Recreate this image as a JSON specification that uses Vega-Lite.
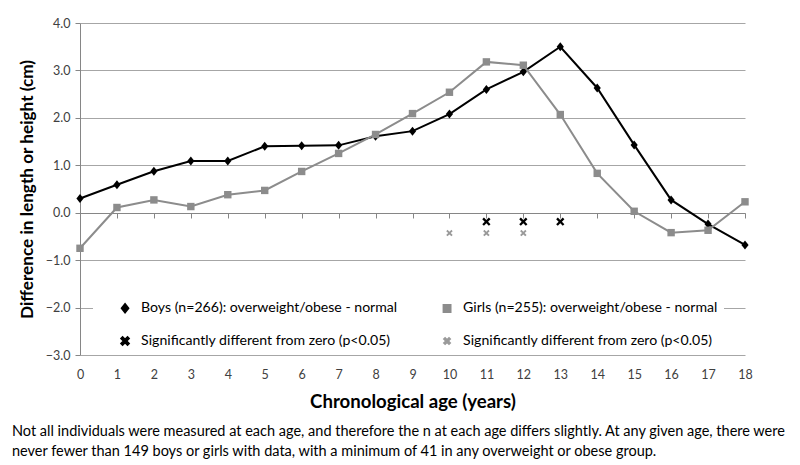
{
  "$schema": "https://vega.github.io/schema/vega-lite/v6.json",
  "width": 665,
  "height": 332,
  "autosize": {"type": "none"},
  "padding": {"left": 80, "top": 23, "right": 55, "bottom": 110},
  "background": "white",
  "config": {"font": "Lato", "view": {"stroke": null}},
  "title": {
    "text": ["Not all individuals were measured at each age, and therefore the n at each age differs slightly. At any given age, there were", "never fewer than 149  boys or girls with data, with a minimum of 41  in any overweight or obese group."],
    "orient": "bottom",
    "anchor": "start",
    "frame": "group",
    "dx": -68,
    "offset": 14,
    "fontSize": 14.5,
    "fontWeight": "normal",
    "color": "#000000",
    "lineHeight": 20,
    "font": "Lato"
  },
  "datasets": {
    "main": [
      {"age": 0, "series": "Boys", "diff": 0.30},
      {"age": 1, "series": "Boys", "diff": 0.59},
      {"age": 2, "series": "Boys", "diff": 0.875},
      {"age": 3, "series": "Boys", "diff": 1.09},
      {"age": 4, "series": "Boys", "diff": 1.09},
      {"age": 5, "series": "Boys", "diff": 1.40},
      {"age": 6, "series": "Boys", "diff": 1.41},
      {"age": 7, "series": "Boys", "diff": 1.42},
      {"age": 8, "series": "Boys", "diff": 1.61},
      {"age": 9, "series": "Boys", "diff": 1.72},
      {"age": 10, "series": "Boys", "diff": 2.08},
      {"age": 11, "series": "Boys", "diff": 2.60},
      {"age": 12, "series": "Boys", "diff": 2.97},
      {"age": 13, "series": "Boys", "diff": 3.50},
      {"age": 14, "series": "Boys", "diff": 2.63},
      {"age": 15, "series": "Boys", "diff": 1.43},
      {"age": 16, "series": "Boys", "diff": 0.27},
      {"age": 17, "series": "Boys", "diff": -0.24},
      {"age": 18, "series": "Boys", "diff": -0.68},
      {"age": 0, "series": "Girls", "diff": -0.75},
      {"age": 1, "series": "Girls", "diff": 0.11},
      {"age": 2, "series": "Girls", "diff": 0.27},
      {"age": 3, "series": "Girls", "diff": 0.13},
      {"age": 4, "series": "Girls", "diff": 0.38},
      {"age": 5, "series": "Girls", "diff": 0.47},
      {"age": 6, "series": "Girls", "diff": 0.87},
      {"age": 7, "series": "Girls", "diff": 1.25},
      {"age": 8, "series": "Girls", "diff": 1.65},
      {"age": 9, "series": "Girls", "diff": 2.09},
      {"age": 10, "series": "Girls", "diff": 2.54},
      {"age": 11, "series": "Girls", "diff": 3.18},
      {"age": 12, "series": "Girls", "diff": 3.11},
      {"age": 13, "series": "Girls", "diff": 2.07},
      {"age": 14, "series": "Girls", "diff": 0.83},
      {"age": 15, "series": "Girls", "diff": 0.03},
      {"age": 16, "series": "Girls", "diff": -0.42},
      {"age": 17, "series": "Girls", "diff": -0.37},
      {"age": 18, "series": "Girls", "diff": 0.23}
    ],
    "sig": [
      {"age": 11, "series": "SigBoys", "diff": -0.19},
      {"age": 12, "series": "SigBoys", "diff": -0.19},
      {"age": 13, "series": "SigBoys", "diff": -0.19},
      {"age": 10, "series": "SigGirls", "diff": -0.43},
      {"age": 11, "series": "SigGirls", "diff": -0.43},
      {"age": 12, "series": "SigGirls", "diff": -0.43}
    ]
  },
  "encoding": {
    "x": {
      "field": "age",
      "type": "quantitative",
      "scale": {"domain": [0, 18], "nice": false, "zero": false},
      "axis": {
        "orient": "bottom",
        "offset": -142,
        "values": [0, 1, 2, 3, 4, 5, 6, 7, 8, 9, 10, 11, 12, 13, 14, 15, 16, 17, 18],
        "grid": false,
        "domainColor": "#868686",
        "domainWidth": 1,
        "tickColor": "#868686",
        "tickSize": 5,
        "labelPadding": 150,
        "labelFont": "Lato",
        "labelFontSize": 12.5,
        "labelColor": "#404040",
        "labelFlush": false,
        "title": "Chronological age (years)",
        "titleFont": "Lato",
        "titleFontSize": 18.6,
        "titleFontWeight": "bold",
        "titleColor": "#000000",
        "titlePadding": 12
      }
    },
    "y": {
      "field": "diff",
      "type": "quantitative",
      "scale": {"domain": [-3, 4], "nice": false, "zero": false},
      "axis": {
        "values": [-3, -2, -1, 0, 1, 2, 3, 4],
        "format": ".1f",
        "grid": true,
        "gridColor": "#a6a6a6",
        "gridWidth": 1,
        "domainColor": "#868686",
        "tickColor": "#868686",
        "tickSize": 5,
        "labelPadding": 5,
        "labelFont": "Lato",
        "labelFontSize": 12.5,
        "labelColor": "#404040",
        "title": "Difference in length or height (cm)",
        "titleFont": "Lato",
        "titleFontSize": 17.2,
        "titleFontWeight": "bold",
        "titleColor": "#000000",
        "titlePadding": 9
      }
    }
  },
  "layer": [
    {
      "data": {"name": "main"},
      "mark": {"type": "line", "strokeWidth": 2},
      "encoding": {
        "color": {
          "field": "series",
          "type": "nominal",
          "scale": {"domain": ["Boys", "SigBoys", "Girls", "SigGirls"], "range": ["#000000", "#000000", "#8c8c8c", "#9a9a9a"]}
        }
      }
    },
    {
      "data": {"name": "main"},
      "mark": {"type": "point", "filled": true, "opacity": 1},
      "encoding": {
        "color": {
          "field": "series",
          "type": "nominal",
          "legend": {
            "orient": "none",
            "legendX": 13,
            "legendY": 272,
            "columns": 2,
            "columnPadding": 23,
            "rowPadding": 17,
            "fillColor": "white",
            "padding": 6,
            "title": null,
            "labelFont": "Lato",
            "labelFontSize": 14.1,
            "labelColor": "#000000",
            "labelLimit": 0,
            "symbolSize": 64,
            "symbolOffset": 19,
            "labelOffset": 9,
            "labelExpr": "datum.value === 'Boys' ? 'Boys (n=266): overweight/obese - normal' : datum.value === 'Girls' ? 'Girls (n=255): overweight/obese - normal' : 'Significantly different from zero (p<0.05)'",
            "encode": {
              "symbols": {
                "size": {"value": 49}
              }
            }
          }
        },
        "shape": {
          "field": "series",
          "type": "nominal",
          "scale": {"domain": ["Boys", "SigBoys", "Girls", "SigGirls"], "range": ["M-0.8,0L0,-1L0.8,0L0,1Z", "M-1,-0.6L-0.6,-1L0,-0.4L0.6,-1L1,-0.6L0.4,0L1,0.6L0.6,1L0,0.4L-0.6,1L-1,0.6L-0.4,0Z", "square", "M-1,-0.6L-0.6,-1L0,-0.4L0.6,-1L1,-0.6L0.4,0L1,0.6L0.6,1L0,0.4L-0.6,1L-1,0.6L-0.4,0Z"]},
          "legend": null
        },
        "size": {
          "field": "series",
          "type": "nominal",
          "scale": {"domain": ["Boys", "SigBoys", "Girls", "SigGirls"], "range": [81, 42, 49, 42]},
          "legend": null
        }
      }
    },
    {
      "data": {"name": "sig"},
      "mark": {"type": "point", "filled": true, "opacity": 1},
      "encoding": {
        "color": {"field": "series", "type": "nominal"},
        "shape": {"field": "series", "type": "nominal", "legend": null},
        "size": {"field": "series", "type": "nominal", "legend": null}
      }
    }
  ]
}
